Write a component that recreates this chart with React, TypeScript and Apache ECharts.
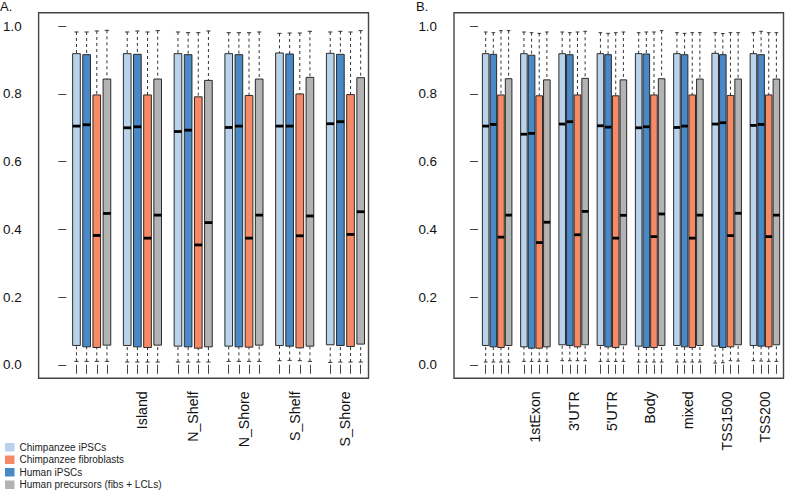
import React, { useEffect, useRef } from "react";
import * as echarts from "echarts";

// ---------- data ----------
const groupsA = ["", "Island", "N_Shelf", "N_Shore", "S_Shelf", "S_Shore"];
const groupsB = ["", "1stExon", "3'UTR", "5'UTR", "Body", "mixed", "TSS1500", "TSS200"];

const seriesNames = [
  "Chimpanzee iPSCs",
  "Human iPSCs",
  "Chimpanzee fibroblasts",
  "Human precursors (fibs + LCLs)",
];
const legendOrder = [
  "Chimpanzee iPSCs",
  "Chimpanzee fibroblasts",
  "Human iPSCs",
  "Human precursors (fibs + LCLs)",
];
const yTicks = [0, 0.2, 0.4, 0.6, 0.8, 1.0];

// each tuple: [lower whisker, Q1, median, Q3, upper whisker]
const A_chimpIPSC = [
  [0.010, 0.057, 0.705, 0.919, 0.983],
  [0.008, 0.057, 0.700, 0.919, 0.983],
  [0.008, 0.055, 0.689, 0.919, 0.983],
  [0.010, 0.055, 0.701, 0.919, 0.981],
  [0.012, 0.057, 0.705, 0.921, 0.979],
  [0.007, 0.059, 0.712, 0.920, 0.983],
];
const A_humanIPSC = [
  [0.010, 0.053, 0.709, 0.916, 0.983],
  [0.008, 0.053, 0.703, 0.917, 0.986],
  [0.008, 0.053, 0.693, 0.916, 0.981],
  [0.010, 0.053, 0.705, 0.916, 0.981],
  [0.013, 0.055, 0.705, 0.918, 0.980],
  [0.008, 0.057, 0.718, 0.917, 0.985],
];
const A_chimpFib = [
  [0.010, 0.051, 0.382, 0.797, 0.986],
  [0.008, 0.051, 0.374, 0.797, 0.983],
  [0.008, 0.049, 0.354, 0.7915, 0.981],
  [0.010, 0.052, 0.374, 0.7955, 0.981],
  [0.012, 0.050, 0.381, 0.800, 0.980],
  [0.008, 0.054, 0.385, 0.798, 0.983],
];
const A_humanPre = [
  [0.010, 0.058, 0.447, 0.844, 0.988],
  [0.008, 0.058, 0.442, 0.844, 0.987],
  [0.008, 0.053, 0.420, 0.840, 0.986],
  [0.010, 0.058, 0.442, 0.844, 0.983],
  [0.010, 0.055, 0.4395, 0.849, 0.985],
  [0.008, 0.061, 0.452, 0.848, 0.987],
];

const B_chimpIPSC = [
  [0.008, 0.057, 0.705, 0.919, 0.983],
  [0.010, 0.053, 0.681, 0.919, 0.983],
  [0.012, 0.059, 0.711, 0.919, 0.983],
  [0.010, 0.057, 0.706, 0.919, 0.981],
  [0.008, 0.055, 0.700, 0.919, 0.981],
  [0.008, 0.057, 0.701, 0.919, 0.981],
  [0.005, 0.055, 0.711, 0.920, 0.981],
  [0.012, 0.057, 0.707, 0.919, 0.981],
];
const B_humanIPSC = [
  [0.008, 0.053, 0.710, 0.917, 0.981],
  [0.010, 0.049, 0.6835, 0.9145, 0.981],
  [0.012, 0.057, 0.718, 0.916, 0.981],
  [0.010, 0.053, 0.702, 0.916, 0.979],
  [0.008, 0.051, 0.703, 0.918, 0.983],
  [0.008, 0.053, 0.705, 0.916, 0.979],
  [0.006, 0.051, 0.715, 0.916, 0.9785],
  [0.011, 0.055, 0.710, 0.916, 0.985],
];
const B_chimpFib = [
  [0.008, 0.051, 0.377, 0.797, 0.987],
  [0.010, 0.049, 0.361, 0.7945, 0.979],
  [0.012, 0.053, 0.384, 0.797, 0.983],
  [0.010, 0.051, 0.374, 0.7945, 0.981],
  [0.008, 0.051, 0.3785, 0.797, 0.983],
  [0.008, 0.051, 0.374, 0.797, 0.981],
  [0.012, 0.053, 0.3815, 0.7955, 0.981],
  [0.010, 0.053, 0.3785, 0.797, 0.981],
];
const B_humanPre = [
  [0.008, 0.057, 0.442, 0.845, 0.987],
  [0.010, 0.053, 0.421, 0.8416, 0.983],
  [0.012, 0.059, 0.453, 0.846, 0.985],
  [0.010, 0.059, 0.4415, 0.8416, 0.983],
  [0.008, 0.057, 0.4454, 0.845, 0.987],
  [0.008, 0.057, 0.442, 0.844, 0.981],
  [0.011, 0.059, 0.4475, 0.844, 0.981],
  [0.010, 0.059, 0.442, 0.844, 0.981],
];

// ---------- styles ----------
const FONT = '"Liberation Sans", Arial, Helvetica, sans-serif';
const colors = ["#b9d3ec", "#4a89c7", "#f68a66", "#b3b3b3"];
const legendColors: Record<string, string> = {
  "Chimpanzee iPSCs": colors[0],
  "Human iPSCs": colors[1],
  "Chimpanzee fibroblasts": colors[2],
  "Human precursors (fibs + LCLs)": colors[3],
};
const AXIS_COLOR = "#444";
const BOX_BORDER = "#2b2b2b";
const WHISKER = "#333";

const SLOTS = 5; // 4 boxes + 1 gap per group

function makeRenderItem(color: string, boxFrac: number) {
  return (params: any, api: any) => {
    const pos = api.value(0);
    const lo = api.value(1);
    const q1 = api.value(2);
    const med = api.value(3);
    const q3 = api.value(4);
    const hi = api.value(5);
    const cx = api.coord([pos, q3])[0];
    const yQ3 = api.coord([pos, q3])[1];
    const yQ1 = api.coord([pos, q1])[1];
    const yMed = api.coord([pos, med])[1];
    const yLo = api.coord([pos, lo])[1];
    const yHi = api.coord([pos, hi])[1];
    const bw = api.size([boxFrac, 0])[0];
    const sw = bw * 0.55;
    const dashStyle = { stroke: WHISKER, lineWidth: 1, lineDash: [3, 3] };
    const solid = { stroke: WHISKER, lineWidth: 1 };
    return {
      type: "group",
      children: [
        { type: "line", shape: { x1: cx, y1: yHi, x2: cx, y2: yQ3 }, style: dashStyle },
        { type: "line", shape: { x1: cx, y1: yLo, x2: cx, y2: yQ1 }, style: dashStyle },
        { type: "line", shape: { x1: cx - sw / 2, y1: yHi, x2: cx + sw / 2, y2: yHi }, style: solid },
        { type: "line", shape: { x1: cx - sw / 2, y1: yLo, x2: cx + sw / 2, y2: yLo }, style: solid },
        {
          type: "rect",
          shape: { x: cx - bw / 2, y: yQ3, width: bw, height: yQ1 - yQ3 },
          style: { fill: color, stroke: BOX_BORDER, lineWidth: 1 },
        },
        {
          type: "line",
          shape: { x1: cx - bw / 2, y1: yMed, x2: cx + bw / 2, y2: yMed },
          style: { stroke: "#000", lineWidth: 2.8 },
        },
      ],
    };
  };
}

function buildSeries(gridIdx: number, panelData: number[][][], boxFrac: number) {
  return panelData.map((stats, si) => ({
    type: "custom",
    name: seriesNames[si],
    xAxisIndex: gridIdx,
    yAxisIndex: gridIdx,
    itemStyle: { color: colors[si] },
    encode: { x: 0, y: [1, 2, 3, 4, 5] },
    silent: true,
    clip: false,
    data: stats.map((s, gi) => [gi * SLOTS + si + 1, ...s]),
    renderItem: makeRenderItem(colors[si], boxFrac),
  }));
}

function tickPositions(groups: string[]) {
  const out: number[] = [];
  groups.forEach((_, gi) => {
    for (let si = 0; si < 4; si++) out.push(gi * SLOTS + si + 1);
  });
  return out;
}

function labelCenters(groups: string[]) {
  return groups.map((_, gi) => gi * SLOTS + 2.5).filter((_, gi) => groups[gi] !== "");
}

function xAxisFor(gridIdx: number, groups: string[], min: number, max: number) {
  return {
    type: "value",
    gridIndex: gridIdx,
    min,
    max,
    axisLine: { show: false },
    splitLine: { show: false },
    axisTick: {
      show: true,
      length: 9,
      customValues: tickPositions(groups),
      lineStyle: { color: AXIS_COLOR, width: 1 },
    },
    axisLabel: {
      show: true,
      customValues: labelCenters(groups),
      rotate: 90,
      margin: 13,
      fontSize: 14.2,
      color: "#111",
      fontFamily: FONT,
      formatter: (v: number) => {
        const gi = Math.round((v - 2.5) / SLOTS);
        return groups[gi] ?? "";
      },
    },
  };
}

function yAxisFor(gridIdx: number) {
  return {
    type: "value",
    gridIndex: gridIdx,
    min: -0.04,
    max: 1.04,
    axisLine: { show: false },
    splitLine: { show: false },
    axisTick: {
      show: true,
      length: 8,
      customValues: yTicks,
      lineStyle: { color: AXIS_COLOR, width: 1 },
    },
    axisLabel: {
      show: true,
      customValues: yTicks,
      margin: 17,
      fontSize: 13.4,
      color: "#111",
      fontFamily: FONT,
      formatter: (v: number) => v.toFixed(1),
    },
  };
}

export default function App() {
  const ref = useRef<HTMLDivElement>(null);
  useEffect(() => {
    if (!ref.current) return;
    const chart = echarts.init(ref.current, undefined, { renderer: "svg" });
    const gridStyle = {
      show: true,
      borderColor: AXIS_COLOR,
      borderWidth: 1.4,
      backgroundColor: "transparent",
      containLabel: false,
    };
    chart.setOption({
      animation: false,
      backgroundColor: "#fff",
      textStyle: { fontFamily: FONT },
      grid: [
        { ...gridStyle, left: 37, top: 12.7, width: 331.5, height: 365.6 },
        { ...gridStyle, left: 454, top: 12.7, width: 329.5, height: 365.6 },
      ],
      xAxis: [xAxisFor(0, groupsA, -2.73, 29.77), xAxisFor(1, groupsB, -3.14, 39.93)],
      yAxis: [yAxisFor(0), yAxisFor(1)],
      legend: {
        orient: "vertical",
        left: 5,
        top: 441,
        height: 60,
        padding: 0,
        itemGap: 0,
        itemWidth: 9.5,
        itemHeight: 8.5,
        icon: "rect",
        selectedMode: false,
        itemStyle: { borderWidth: 0 },
        textStyle: { fontSize: 10, lineHeight: 12.5, color: "#222", fontFamily: FONT },
        data: legendOrder.map((n) => ({ name: n, itemStyle: { color: legendColors[n], borderWidth: 0 } })),
      },
      graphic: [
        {
          type: "text",
          x: 0,
          y: 6,
          style: { text: "A.", fontSize: 13, fontFamily: FONT, fill: "#111", verticalAlign: "middle" },
        },
        {
          type: "text",
          x: 416,
          y: 6,
          style: { text: "B.", fontSize: 13, fontFamily: FONT, fill: "#111", verticalAlign: "middle" },
        },
      ],
      series: [
        ...buildSeries(0, [A_chimpIPSC, A_humanIPSC, A_chimpFib, A_humanPre], 0.755),
        ...buildSeries(1, [B_chimpIPSC, B_humanIPSC, B_chimpFib, B_humanPre], 0.86),
      ],
    });
    return () => chart.dispose();
  }, []);
  return (
    <div
      ref={ref}
      style={{ position: "absolute", left: 0, top: 0, width: 785, height: 490 }}
    />
  );
}
